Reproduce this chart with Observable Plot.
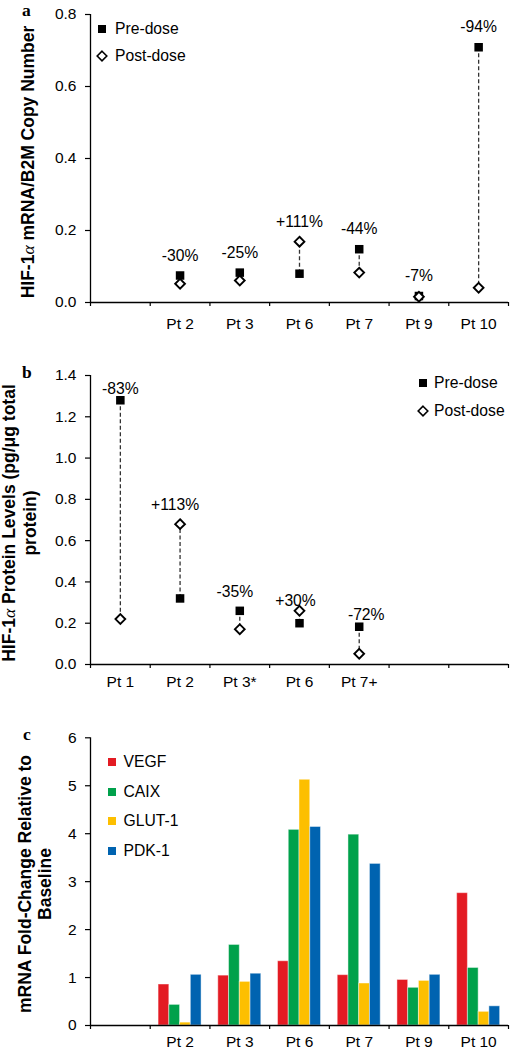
<!DOCTYPE html>
<html>
<head>
<meta charset="utf-8">
<script src="https://cdn.jsdelivr.net/npm/d3@7"></script>
<script src="https://cdn.jsdelivr.net/npm/@observablehq/plot@0.6"></script>
<style>
  html, body { margin: 0; padding: 0; background: #fff; }
  body { font-family: "Liberation Sans", Arial, Helvetica, sans-serif; color: #000; }
  #root { position: relative; width: 510px; height: 1050px; overflow: hidden; }
  .panel { position: absolute; left: 0; width: 510px; }
  .letter { position: absolute; font-family: "Liberation Serif", "DejaVu Serif", serif; font-weight: bold; font-size: 17.5px; line-height: 12px; }
  .ytitle { position: absolute; transform: translate(-50%, -50%) rotate(-90deg); font-weight: bold; font-size: 17.5px; text-align: center; white-space: nowrap; }
  .alpha { font-family: "Liberation Serif", "DejaVu Serif", serif; font-style: italic; font-weight: normal; }
  .leg { position: absolute; display: flex; align-items: center; height: 18px; font-size: 15.7px; line-height: 18px; white-space: nowrap; }
  .leg svg { display: block; flex: none; }
</style>
</head>
<body>
<div id="root"></div>
<script>
// ---------------- DATA ----------------
// Panel a: HIF-1α mRNA / B2M copy number
const catsA = ["", "Pt 2", "Pt 3", "Pt 6", "Pt 7", "Pt 9", "Pt 10"];
const patientsA = ["Pt 2", "Pt 3", "Pt 6", "Pt 7", "Pt 9", "Pt 10"];
const preA = [0.075, 0.083, 0.080, 0.148, 0.018, 0.709];
const postA = [0.052, 0.061, 0.169, 0.083, 0.016, 0.041];
const changeA = ["-30%", "-25%", "+111%", "-44%", "-7%", "-94%"];
const yTicksA = [0, 0.2, 0.4, 0.6, 0.8];

// Panel b: HIF-1α protein levels
const catsB = ["Pt 1", "Pt 2", "Pt 3*", "Pt 6", "Pt 7+", "", ""];
const patientsB = ["Pt 1", "Pt 2", "Pt 3*", "Pt 6", "Pt 7+"];
const preB = [1.28, 0.32, 0.26, 0.20, 0.183];
const postB = [0.22, 0.68, 0.171, 0.26, 0.052];
const changeB = ["-83%", "+113%", "-35%", "+30%", "-72%"];
const yTicksB = [0, 0.2, 0.4, 0.6, 0.8, 1.0, 1.2, 1.4];

// Panel c: mRNA fold-change relative to baseline
const catsC = ["", "Pt 2", "Pt 3", "Pt 6", "Pt 7", "Pt 9", "Pt 10"];
const patientsC = ["Pt 2", "Pt 3", "Pt 6", "Pt 7", "Pt 9", "Pt 10"];
const genes = ["VEGF", "CAIX", "GLUT-1", "PDK-1"];
const vegf  = [0.855, 1.04, 1.34, 1.05, 0.95, 2.76];
const caix  = [0.43, 1.68, 4.08, 3.98, 0.786, 1.20];
const glut1 = [0.06, 0.91, 5.125, 0.876, 0.93, 0.285];
const pdk1  = [1.057, 1.08, 4.14, 3.37, 1.057, 0.40];
const yTicksC = [0, 1, 2, 3, 4, 5, 6];
const geneColors = ["#e31b23", "#00a14b", "#fdbf00", "#0063b0"];

// ---------------- LAYOUT / STYLE ----------------
const FONT = "Liberation Sans, Arial, Helvetica, sans-serif";
const W = 510;
// label nudges (pixels) for the percentage annotations in panel b
const nudgeB = [[0, -11], [-5, -19], [-5, -19], [-4, -10], [7, -12]];

const root = document.getElementById("root");

function addPanel(top, node) {
  const d = document.createElement("div");
  d.className = "panel";
  d.style.top = top + "px";
  d.appendChild(node);
  root.appendChild(d);
}

function commonMarks(cats, yTicks, fmt, labelPad) {
  return [
    Plot.axisY(yTicks, {tickSize: 5, tickPadding: 9, tickFormat: fmt, strokeWidth: 1.2, label: null}),
    Plot.axisX(d3.range(cats.length + 1), {tickSize: 4, tickFormat: () => "", strokeWidth: 1.2, label: null}),
    Plot.axisX(d3.range(cats.length).map(i => i + 0.5), {tickSize: 0, tickPadding: labelPad, tickFormat: d => cats[Math.floor(d)], label: null}),
    Plot.ruleX([0], {stroke: "#000", strokeWidth: 1.3}),
    Plot.ruleY([0], {stroke: "#000", strokeWidth: 1.3})
  ];
}

function dumbbell({cats, patients, pre, post, change, yMax, yTicks, height, marginTop, marginBottom, labelPad, nudge}) {
  const rows = patients.map((p, k) => ({
    x: cats.indexOf(p) + 0.5, pre: pre[k], post: post[k], change: change[k],
    top: Math.max(pre[k], post[k]),
    ndx: nudge ? nudge[k][0] : 0, ndy: nudge ? nudge[k][1] : -20
  }));
  return Plot.plot({
    width: W, height, marginLeft: 90, marginRight: 2, marginTop, marginBottom,
    style: {fontFamily: FONT, fontSize: "15.5px", color: "#000", background: "transparent", overflow: "visible"},
    x: {domain: [0, cats.length]},
    y: {domain: [0, yMax]},
    marks: [
      ...commonMarks(cats, yTicks, d3.format(".1f"), labelPad),
      Plot.ruleX(rows, {x: "x", y1: "pre", y2: "post", stroke: "#333", strokeWidth: 1.3, strokeDasharray: "4,2.5"}),
      ...rows.map(r => Plot.text([r], {x: "x", y: "top", text: "change", dx: r.ndx, dy: r.ndy, fill: "#000", fontSize: "15.7px"})),
      Plot.dot(rows, {x: "x", y: "pre", symbol: "square", r: 4.8, fill: "#000", stroke: "none"}),
      Plot.dot(rows, {x: "x", y: "post", symbol: "diamond2", r: 4.4, fill: "#fff", stroke: "#000", strokeWidth: 1.9})
    ]
  });
}

// Panel a
addPanel(0, dumbbell({
  cats: catsA, patients: patientsA, pre: preA, post: postA, change: changeA,
  yMax: 0.8, yTicks: yTicksA, height: 340, marginTop: 14, marginBottom: 38, labelPad: 15
}));

// Panel b
addPanel(340, dumbbell({
  cats: catsB, patients: patientsB, pre: preB, post: postB, change: changeB,
  yMax: 1.4, yTicks: yTicksB, height: 360, marginTop: 35, marginBottom: 36, labelPad: 11, nudge: nudgeB
}));

// Panel c
const valuesC = [vegf, caix, glut1, pdk1];
const bw = 0.18, inset = (1 - genes.length * bw) / 2;
const barsC = patientsC.flatMap((p, k) => genes.map((g, j) => {
  const x1 = catsC.indexOf(p) + inset + j * bw;
  return {gene: g, x1, x2: x1 + bw, v: valuesC[j][k]};
}));
addPanel(700, Plot.plot({
  width: W, height: 350, marginLeft: 90, marginRight: 2, marginTop: 37.3, marginBottom: 25,
  style: {fontFamily: FONT, fontSize: "15.5px", color: "#000", background: "transparent", overflow: "visible"},
  x: {domain: [0, catsC.length]},
  y: {domain: [0, 6]},
  color: {domain: genes, range: geneColors},
  marks: [
    Plot.rect(barsC, {x1: "x1", x2: "x2", y1: 0, y2: "v", fill: "gene", stroke: "#fff", strokeOpacity: 0.45, strokeWidth: 1}),
    ...commonMarks(catsC, yTicksC, d3.format("d"), 10.5)
  ]
}));

// ---------------- LETTERS, AXIS TITLES, LEGENDS ----------------
function addLetter(t, x, top) {
  const d = document.createElement("div");
  d.className = "letter"; d.textContent = t;
  d.style.left = x + "px"; d.style.top = top + "px";
  root.appendChild(d);
}
addLetter("a", 22, 4);
addLetter("b", 22, 366);
addLetter("c", 23, 728);

function addTitle(html, cx, cy, lh) {
  const d = document.createElement("div");
  d.className = "ytitle"; d.innerHTML = html;
  d.style.left = cx + "px"; d.style.top = cy + "px"; d.style.lineHeight = lh + "px";
  root.appendChild(d);
}
addTitle('HIF-1<span class="alpha">α</span> mRNA/B2M Copy Number', 27.5, 162, 18);
addTitle('HIF-1<span class="alpha">α</span> Protein Levels (pg/μg total<br>protein)', 19.5, 523, 21);
addTitle('mRNA Fold-Change Relative to<br>Baseline', 35, 884, 20);

function symbolSvg(kind, color) {
  const ns = "http://www.w3.org/2000/svg";
  const s = document.createElementNS(ns, "svg");
  s.setAttribute("width", 14); s.setAttribute("height", 14);
  let el;
  if (kind === "square") {
    el = document.createElementNS(ns, "rect");
    el.setAttribute("x", 3); el.setAttribute("y", 3); el.setAttribute("width", 8); el.setAttribute("height", 8);
    el.setAttribute("fill", color);
  } else {
    el = document.createElementNS(ns, "path");
    el.setAttribute("d", "M7,2.2L11.8,7L7,11.8L2.2,7Z");
    el.setAttribute("fill", "#fff"); el.setAttribute("stroke", "#000"); el.setAttribute("stroke-width", 1.6);
  }
  s.appendChild(el);
  return s;
}
function addLegend(items, cx, ys, gap) {
  items.forEach((it, i) => {
    const d = document.createElement("div");
    d.className = "leg";
    d.style.left = (cx - 7) + "px"; d.style.top = (ys[i] - 9) + "px";
    d.appendChild(symbolSvg(it.kind, it.color));
    const t = document.createElement("span");
    t.textContent = it.label; t.style.marginLeft = gap + "px";
    d.appendChild(t);
    root.appendChild(d);
  });
}
const doseItems = [{kind: "square", color: "#000", label: "Pre-dose"}, {kind: "diamond", label: "Post-dose"}];
addLegend(doseItems, 102, [29, 56], 6);
addLegend(doseItems, 423, [383, 411], 4);
addLegend(genes.map((g, j) => ({kind: "square", color: geneColors[j], label: g})), 111.5, [762, 791.7, 821.3, 850.7], 5);
</script>
</body>
</html>
